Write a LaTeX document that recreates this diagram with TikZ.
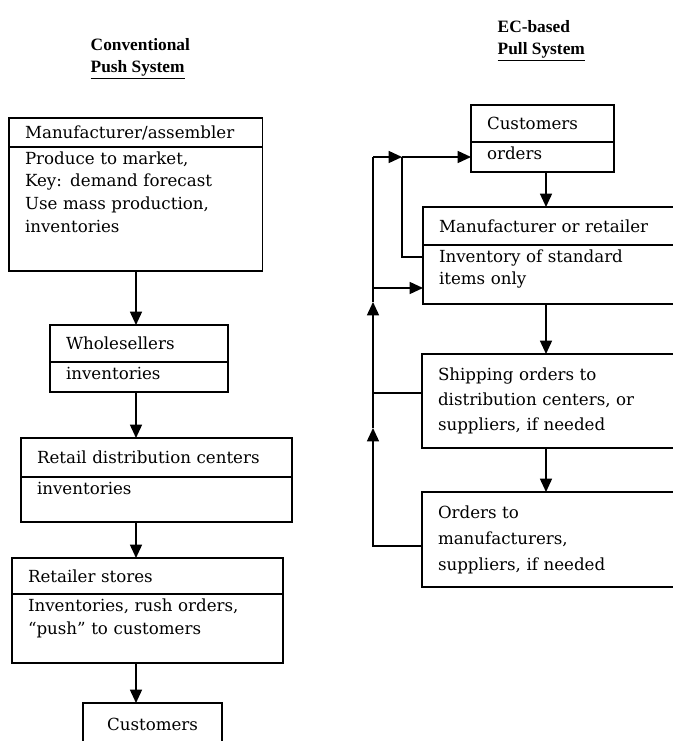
\documentclass[tikz,border=0pt]{standalone}
\usepackage{fontspec}
\setmainfont{DejaVu Serif}
\newfontfamily\titlefamily{Liberation Serif}
\usetikzlibrary{positioning,arrows.meta}

\begin{document}
\begin{tikzpicture}[x=0.75pt,y=-0.75pt,line width=1.1pt,>={Triangle[length=10pt,width=9pt]},
  head/.style={draw,anchor=north west,align=left,outer sep=0pt,inner xsep=12pt,inner ysep=3pt,font=\fontsize{12.5}{17}\selectfont},
  body/.style={draw,align=left,outer sep=0pt,inner xsep=12pt,inner ysep=3pt,text height=10pt,font=\fontsize{12.5}{17}\selectfont},
  title/.style={anchor=west,inner xsep=0pt,font=\titlefamily\bfseries\fontsize{13}{15}\selectfont}]
\useasboundingbox (0,0) rectangle (672,741);

% push system
\node[title] (push1) at (90,45) {Conventional};
\node[title] (push2) at (90,70) {\underline{Push System}};

\node[head,text width=166pt,minimum height=21.75pt] (maker) at (9,118) {Manufacturer/assembler};
\node[body,below=0pt of maker,text width=166pt,text depth=77pt] (makerb) {Produce to market,\\Key: demand forecast\\Use mass production,\\inventories};
\node[head,text width=109.5pt,minimum height=27.75pt] (whole) at (50,325) {Wholesellers};
\node[body,below=0pt of whole,text width=109.5pt,text depth=6.5pt] (wholeb) {inventories};
\node[head,text width=179.25pt,minimum height=29.25pt] (retail) at (21,438) {Retail distribution centers};
\node[body,below=0pt of retail,text width=179.25pt,text depth=17.75pt] (retailb) {inventories};
\node[head,text width=179.25pt,minimum height=27pt] (store) at (12,558) {Retailer stores};
\node[body,below=0pt of store,text width=179.25pt,text depth=35.75pt] (storeb) {Inventories, rush orders,\\“push” to customers};
\node[head,align=center,text width=80.25pt,minimum height=32pt] (cust) at (83,703) {Customers};

\coordinate (colL) at (136,0);
\draw[->] (makerb.south -| colL) -- (whole.north -| colL);
\draw[->] (wholeb.south -| colL) -- (retail.north -| colL);
\draw[->] (retailb.south -| colL) -- (store.north -| colL);
\draw[->] (storeb.south -| colL) -- (cust.north -| colL);

% pull system
\node[title] (pull1) at (497,27) {EC-based};
\node[title] (pull2) at (497,52) {\underline{Pull System}};

\node[head,text width=83.25pt,minimum height=27.75pt] (order) at (471,105) {Customers};
\node[body,below=0pt of order,text width=83.25pt,text depth=6.5pt] (orderb) {orders};
\node[head,text width=183.75pt,minimum height=28.5pt] (retailer) at (423,207) {Manufacturer or retailer};
\node[body,below=0pt of retailer,text width=183.75pt,text depth=28.25pt] (retailerb) {Inventory of standard\\items only};
\node[head,text width=184.5pt,minimum height=70.5pt,font=\fontsize{12.5}{19}\selectfont] (ship) at (422,354) {Shipping orders to\\distribution centers, or\\suppliers, if needed};
\node[head,text width=184.5pt,minimum height=71.25pt,font=\fontsize{12.5}{19.5}\selectfont] (supply) at (422,492) {Orders to\\manufacturers,\\suppliers, if needed};

\coordinate (colR) at (546,0);
\draw[->] (orderb.south -| colR) -- (retailer.north -| colR);
\draw[->] (retailerb.south -| colR) -- (ship.north -| colR);
\draw[->] (ship.south -| colR) -- (supply.north -| colR);

% feedback loop
\coordinate (loopL) at (373,157);
\coordinate (loopJ) at (402,157);
\coordinate (upLow) at (373,428);
\coordinate (upHigh) at (373,302);
\coordinate (retailerIn) at ([yshift=12pt]retailerb.south west);
\coordinate (retailerOut) at ([yshift=-9pt]retailerb.north west);
\coordinate (shipOut) at ([yshift=6pt]ship.west);
\draw[->] ([yshift=-5pt]supply.west) -| (upLow);
\draw[->] (upLow) -- (upHigh);
\draw (upHigh) -- (loopL);
\draw[->] (loopL) -- (loopJ);
\draw[->] (loopJ) -- (loopJ -| orderb.west);
\draw[->] (loopL |- retailerIn) -- (retailerIn);
\draw (retailerOut) -| (loopJ);
\draw (shipOut) -- (shipOut -| loopL);
\end{tikzpicture}
\end{document}
